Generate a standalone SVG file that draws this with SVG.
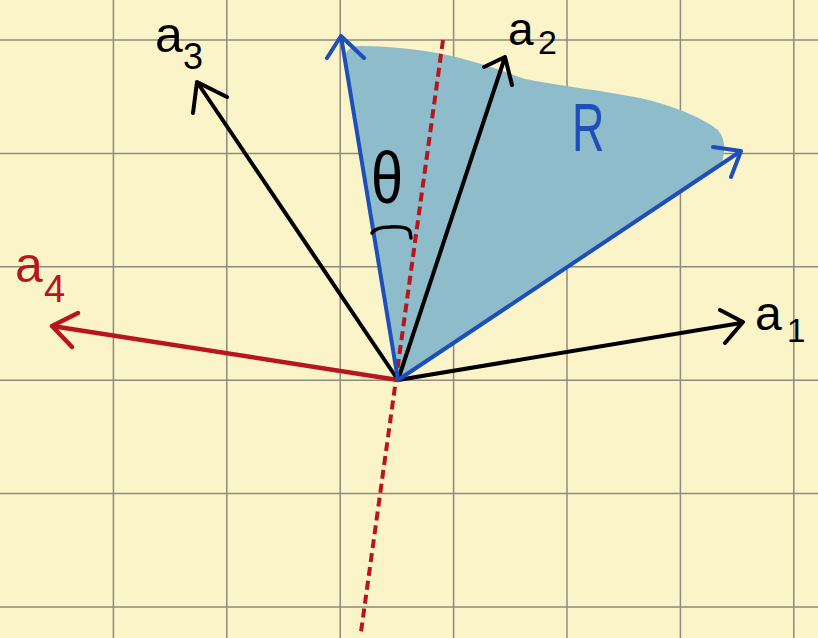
<svg xmlns="http://www.w3.org/2000/svg" width="818" height="638" viewBox="0 0 818 638">
<style>
.grid{stroke:#8f8a7c;stroke-width:1.5;fill:none}
.blk{stroke:#000;stroke-width:4;fill:none;stroke-linecap:round;stroke-linejoin:round}
.blu{stroke:#1c4fb8;stroke-width:4;fill:none;stroke-linecap:round;stroke-linejoin:round}
.red{stroke:#b8161c;stroke-width:4.5;fill:none;stroke-linecap:round;stroke-linejoin:round}
.dash{stroke:#b8161c;stroke-width:4;fill:none;stroke-dasharray:9 5}
.lbl{font-family:"Liberation Sans","DejaVu Sans",sans-serif}
.k{fill:#000}
.b{fill:#1c4fb8}
.r{fill:#b8161c}
</style>
<rect width="818" height="638" fill="#fbf4c8"/>
<g id="grid">
<path class="grid" d="M113.4,0V638M226.8,0V638M340.2,0V638M453.6,0V638M567,0V638M680.4,0V638M793.8,0V638M0,40H818M0,153.4H818M0,266.8H818M0,380.2H818M0,493.6H818M0,607H818"/>
</g>
<g id="region-R">
<path fill="#8fbccb" d="M398,380 L345,58 Q346,46 360,46 C390,46 430,50 460,58 C490,66 505,72 525,79 C560,86 600,90 640,98 C680,107 705,120 718,130 Q728,142 722,162 Z"/>
</g>
<g id="connectors">
<path class="dash" d="M443,40 L361,632"/>
<g id="vec-a1"><path class="blk" d="M398,380 L741,323 M720,310 L743,322 L725,343"/></g>
<g id="vec-a2"><path class="blk" d="M398,380 L505,57 M484,67 L505,57 L512,85"/></g>
<g id="vec-a3"><path class="blk" d="M398,380 L197,82 M193,113 L197,82 L227,97"/></g>
<g id="vec-a4"><path class="red" d="M398,380 L52,326 M78,313 L52,326 L72,347"/></g>
<g id="edge-left"><path class="blu" d="M398,380 L341,36 M327,58 L341,36 L364,58"/></g>
<g id="edge-right"><path class="blu" d="M398,380 L741,151 M713,147 L741,151 L731,177"/></g>
<path class="blk" d="M372,233 Q376,227 390,227 Q408,226 410,232 L411,238" style="stroke-width:3.5"/>
</g>
<g id="label-a1"><text class="lbl k" x="755" y="330" font-size="48">a</text><text class="lbl k" x="787" y="342" font-size="33">1</text></g>
<g id="label-a2"><text class="lbl k" x="508" y="45" font-size="46">a</text><text class="lbl k" x="538" y="54" font-size="34">2</text></g>
<g id="label-a3"><text class="lbl k" x="155" y="52" font-size="50">a</text><text class="lbl k" x="183" y="69" font-size="36">3</text></g>
<g id="label-a4"><text class="lbl r" x="15" y="282" font-size="50">a</text><text class="lbl r" x="44" y="302" font-size="38">4</text></g>
<g id="label-R"><text class="lbl b" transform="translate(572,151) scale(0.66,1)" font-size="68">R</text></g>
<g id="label-theta"><text class="lbl k" transform="translate(371,203) scale(0.8,1)" font-size="72">θ</text></g>
</svg>
